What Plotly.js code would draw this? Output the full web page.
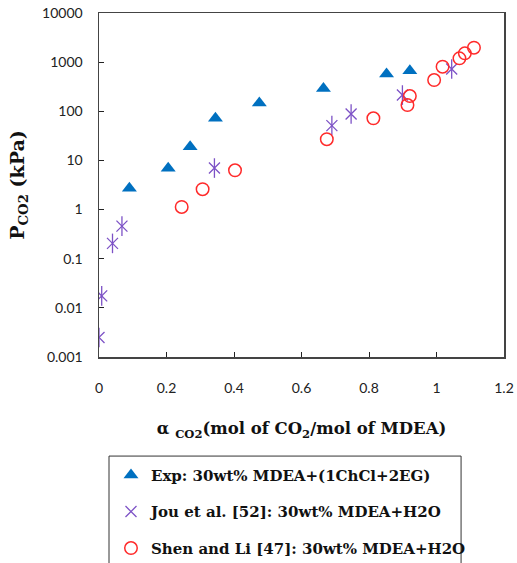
<!DOCTYPE html>
<html>
<head>
<meta charset="utf-8">
<script src="https://cdn.plot.ly/plotly-3.0.1.min.js"></script>
<style>html,body{margin:0;padding:0;background:#fff;}#chart{width:517px;height:563px;}</style>
</head>
<body>
<div id="chart"></div>
<script>
// Exp: 30wt% MDEA+(1ChCl+2EG)
const expAlpha = [0.09, 0.205, 0.27, 0.345, 0.475, 0.665, 0.852, 0.921];
const expP = [2.7, 6.9, 19, 72, 147, 292, 572, 668];
// Jou et al. [52]
const jouAlpha = [0.0, 0.008, 0.04, 0.068, 0.342, 0.69, 0.747, 0.899, 1.045];
const jouP = [0.0025, 0.0175, 0.205, 0.46, 7.0, 51, 88, 214, 723];
// Shen and Li [47]
const shenAlpha = [0.245, 0.307, 0.403, 0.675, 0.813, 0.914, 0.921, 0.993, 1.018, 1.068, 1.084, 1.111];
const shenP = [1.13, 2.6, 6.3, 27, 72, 134, 204, 432, 807, 1194, 1511, 1967];

const xTicks = [0, 0.2, 0.4, 0.6, 0.8, 1, 1.2];
const xTickText = ['0', '0.2', '0.4', '0.6', '0.8', '1', '1.2'];
const yTicks = [0.001, 0.01, 0.1, 1, 10, 100, 1000, 10000];
const yTickText = ['0.001', '0.01', '0.1', '1', '10', '100', '1000', '10000'];

const serif = 'DejaVu Serif, serif';
const purple = '#7D52C6';

const traces = [
  {x: expAlpha, y: expP, mode: 'markers', type: 'scatter', name: '<b>Exp: 30wt% MDEA+(1ChCl+2EG)</b>',
   legendgroup: 'a',
   marker: {symbol: 'triangle-up', size: 13, color: '#0070C0'}},
  {x: jouAlpha, y: jouP, mode: 'markers', type: 'scatter', name: '<b>Jou et al. [52]: 30wt% MDEA+H2O</b>',
   legendgroup: 'b',
   marker: {symbol: 'x-thin-open', size: 11, color: purple, line: {width: 1.3, color: purple}}},
  {x: jouAlpha, y: jouP, mode: 'markers', type: 'scatter', showlegend: false, legendgroup: 'b', hoverinfo: 'skip',
   marker: {symbol: 'line-ns-open', size: 14, color: purple, line: {width: 1.3, color: purple}}},
  {x: shenAlpha, y: shenP, mode: 'markers', type: 'scatter', name: '<b>Shen and Li [47]: 30wt% MDEA+H2O</b>',
   legendgroup: 'c',
   marker: {symbol: 'circle-open', size: 12.5, color: '#FF2A2A', line: {width: 1.5, color: '#FF2A2A'}}}
];

const layout = {
  width: 517, height: 563,
  margin: {l: 99, r: 13, t: 13, b: 206, autoexpand: false},
  paper_bgcolor: '#fff', plot_bgcolor: '#fff',
  showlegend: true,
  xaxis: {
    range: [0, 1.2], tickvals: xTicks, ticktext: xTickText,
    ticks: 'inside', ticklen: 5, tickcolor: '#222', tickwidth: 1,
    showline: true, linecolor: '#444', linewidth: 1.5, mirror: true,
    showgrid: false, zeroline: false,
    ticklabelstandoff: 18,
    tickfont: {family: 'Lato, sans-serif', size: 14, color: '#222'},
    title: {text: '<b>α <sub>CO2</sub>(mol of CO<sub>2</sub>/mol of MDEA)</b>', standoff: 27,
            font: {family: serif, size: 16.5, color: '#111'}}
  },
  yaxis: {
    type: 'log', range: [-3, 4], tickvals: yTicks, ticktext: yTickText,
    ticks: 'inside', ticklen: 5, tickcolor: '#222', tickwidth: 1,
    showline: true, linecolor: '#444', linewidth: 1.5, mirror: true,
    showgrid: false, zeroline: false,
    ticklabelstandoff: 12,
    tickfont: {family: 'Lato, sans-serif', size: 14, color: '#222'},
    title: {text: '<b>P<sub>CO2</sub> (kPa)</b>', standoff: 12,
            font: {family: serif, size: 19, color: '#111'}}
  },
  legend: {
    x: 0.0296, y: -0.296, xanchor: 'left', yanchor: 'top',
    bgcolor: 'rgba(0,0,0,0)', borderwidth: 0,
    font: {family: serif, size: 15, color: '#111'}, tracegroupgap: 14, itemwidth: 30
  },
  shapes: [
    {type: 'rect', xref: 'paper', yref: 'paper', x0: 0.0247, x1: 0.894, y0: -0.288, y1: -0.62,
     line: {color: '#333', width: 1}, fillcolor: 'rgba(0,0,0,0)'}
  ]
};

Plotly.newPlot('chart', traces, layout, {displayModeBar: false, staticPlot: true});
</script>
</body>
</html>
